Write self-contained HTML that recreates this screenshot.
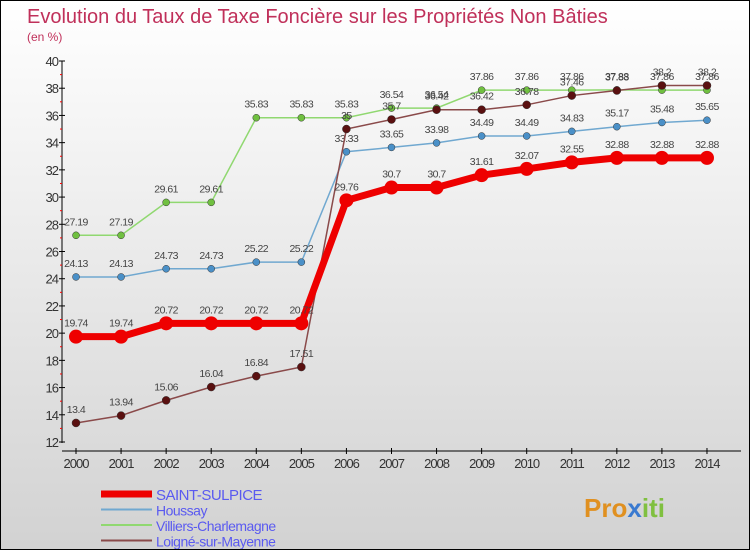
<!DOCTYPE html>
<html><head><meta charset="utf-8"><style>
body{margin:0}
#c{width:750px;height:550px;position:relative;box-sizing:border-box;border:1px solid #000;background:linear-gradient(#fff,#d2d2d2);font-family:"Liberation Sans",sans-serif;overflow:hidden}
</style></head><body>
<div id="c">
<svg id="s" width="750" height="550" style="position:absolute;left:0;top:0"></svg>
</div>
<script>
const years=[2000,2001,2002,2003,2004,2005,2006,2007,2008,2009,2010,2011,2012,2013,2014];
const yTicks=[12,14,16,18,20,22,24,26,28,30,32,34,36,38,40];
const saint=[19.74,19.74,20.72,20.72,20.72,20.72,29.76,30.7,30.7,31.61,32.07,32.55,32.88,32.88,32.88];
const houssay=[24.13,24.13,24.73,24.73,25.22,25.22,33.33,33.65,33.98,34.49,34.49,34.83,35.17,35.48,35.65];
const villiers=[27.19,27.19,29.61,29.61,35.83,35.83,35.83,36.54,36.54,37.86,37.86,37.86,37.88,37.86,37.86];
const loigne=[13.4,13.94,15.06,16.04,16.84,17.51,35,35.7,36.42,36.42,36.78,37.46,37.83,38.2,38.2];
const names=["SAINT-SULPICE","Houssay","Villiers-Charlemagne","Loigné-sur-Mayenne"];
const NS="http://www.w3.org/2000/svg",s=document.getElementById('s');
const X=i=>75+i*45.07, Y=v=>441-(v-12)*13.607;
function el(t,a,txt,name){const e=document.createElementNS(NS,t);for(const k in a)e.setAttribute(k,a[k]);if(txt!=null)e.textContent=txt;


s.appendChild(e);return e;}
el('text',{x:26,y:22,'font-size':20,fill:'#c0305a'},'Evolution du Taux de Taxe Foncière sur les Propriétés Non Bâties','chart-title');
el('text',{x:26,y:40,'font-size':12,fill:'#c0305a'},'(en %)','y-unit-label');
el('line',{x1:61,y1:60,x2:61,y2:442,stroke:'#000'},null,'y-axis');
el('line',{x1:61,y1:450,x2:740,y2:450,stroke:'#000'},null,'x-axis');
yTicks.forEach((t,i)=>{const y=Y(t);el('line',{x1:58,y1:y,x2:64,y2:y,stroke:'#000'},null,'y-tick');
el('text',{x:57,y:y+5,'font-size':13,fill:'#333','text-anchor':'end','letter-spacing':'-1'},t,'y-tick-label');
if(i<yTicks.length-1)el('line',{x1:59,y1:Y(t+1),x2:61,y2:Y(t+1),stroke:'#f00'},null,'y-minor-tick');});
years.forEach((yr,i)=>{el('line',{x1:X(i),y1:447,x2:X(i),y2:453,stroke:'#000'},null,'x-tick');
el('text',{x:X(i),y:467,'font-size':13,fill:'#333','text-anchor':'middle','letter-spacing':'-1'},yr,'x-tick-label');});
const series=[[villiers,'#90d870','#70c040',1.5,3.5,'villiers'],[houssay,'#70a8d0','#4a90c8',1.5,3.5,'houssay'],[loigne,'#8a4a4a','#5a1010',1.5,4,'loigne'],[saint,'#ee0000','#ee0000',7,7,'saint-sulpice']];
series.forEach(([d,c,mc,w,r,n])=>{el('polyline',{points:d.map((v,i)=>X(i)+','+Y(v)).join(' '),fill:'none',stroke:c,'stroke-width':w},null,n+'-line');
d.forEach((v,i)=>{el('circle',{cx:X(i),cy:Y(v),r:r,fill:mc,stroke:n=='saint-sulpice'?'none':'#333','stroke-width':0.5},null,n+'-point');
el('text',{x:X(i),y:Y(v)-10,'font-size':10.5,fill:'#444','text-anchor':'middle','letter-spacing':'-0.5'},v,n+'-value-label');});});
const lc=['#ee0000','#70a8d0','#90d870','#8a4a4a'],lw=[7,2,2,2];
names.forEach((nm,i)=>{const y=496+i*15.5;el('line',{x1:100,y1:y-3,x2:151,y2:y-3,stroke:lc[i],'stroke-width':lw[i]},null,'legend-swatch');
el('text',{x:155,y:y+3,'font-size':i==0?15:14,fill:'#5a5af0','letter-spacing':'-0.5'},nm,'legend-entry');});
const logo=el('text',{x:583,y:516,'font-size':26,'font-weight':'bold'},null,'logo');
[['Pro','#e09020'],['x','#3a7ad0'],['iti','#80c040']].forEach(([t,c])=>{const ts=document.createElementNS(NS,'tspan');ts.setAttribute('fill',c);ts.textContent=t;


logo.appendChild(ts);});
</script>
</body></html>
